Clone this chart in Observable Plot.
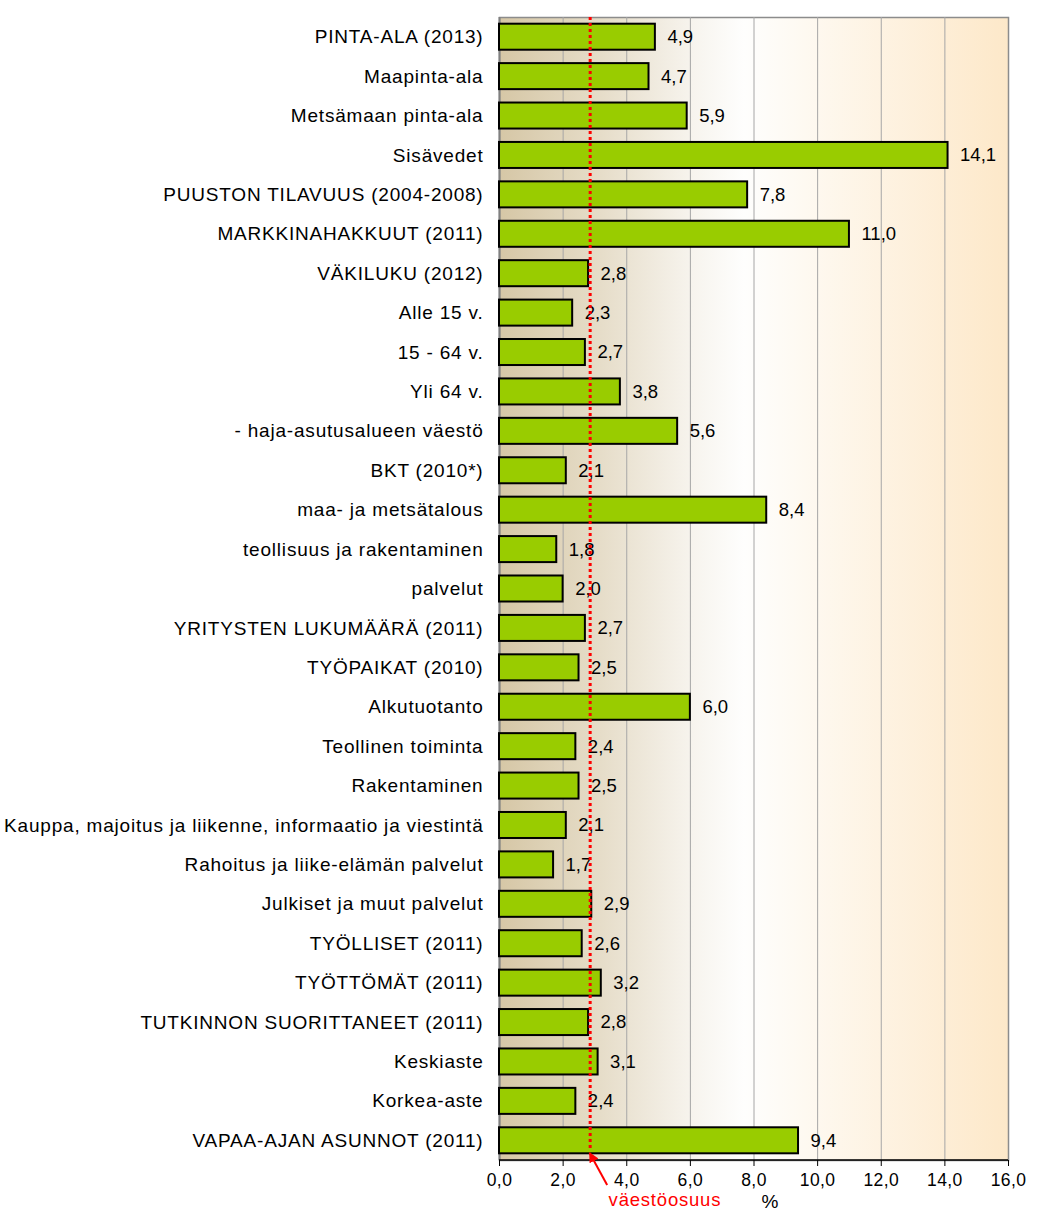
<!DOCTYPE html>
<html>
<head>
<meta charset="utf-8">
<script src="https://cdn.jsdelivr.net/npm/d3@7"></script>
<script src="https://cdn.jsdelivr.net/npm/@observablehq/plot@0.6"></script>
<style>
  html, body { margin: 0; padding: 0; background: #ffffff; }
  #chart { width: 1039px; height: 1222px; }
</style>
</head>
<body>
<div id="chart"></div>
<script>
const categories = [
  "PINTA-ALA (2013)",
  "Maapinta-ala",
  "Metsämaan pinta-ala",
  "Sisävedet",
  "PUUSTON TILAVUUS (2004-2008)",
  "MARKKINAHAKKUUT (2011)",
  "VÄKILUKU (2012)",
  "Alle 15 v.",
  "15 - 64 v.",
  "Yli 64 v.",
  "- haja-asutusalueen väestö",
  "BKT (2010*)",
  "maa- ja metsätalous",
  "teollisuus ja rakentaminen",
  "palvelut",
  "YRITYSTEN LUKUMÄÄRÄ (2011)",
  "TYÖPAIKAT (2010)",
  "Alkutuotanto",
  "Teollinen toiminta",
  "Rakentaminen",
  "Kauppa, majoitus ja liikenne, informaatio ja viestintä",
  "Rahoitus ja liike-elämän palvelut",
  "Julkiset ja muut palvelut",
  "TYÖLLISET (2011)",
  "TYÖTTÖMÄT (2011)",
  "TUTKINNON SUORITTANEET (2011)",
  "Keskiaste",
  "Korkea-aste",
  "VAPAA-AJAN ASUNNOT (2011)"
];
const values = [4.9, 4.7, 5.9, 14.1, 7.8, 11.0, 2.8, 2.3, 2.7, 3.8, 5.6, 2.1, 8.4, 1.8, 2.0,
  2.7, 2.5, 6.0, 2.4, 2.5, 2.1, 1.7, 2.9, 2.6, 3.2, 2.8, 3.1, 2.4, 9.4];
const xTicks = [0, 2, 4, 6, 8, 10, 12, 14, 16];
const populationShare = [2.85];
const annotationLabel = "väestöosuus";
const unitLabel = "%";

const data = categories.map((c, i) => ({category: c, value: values[i]}));
const fmt = d => d.toFixed(1).replace(".", ",");

const chart = Plot.plot({
  width: 1039,
  height: 1222,
  marginLeft: 499,
  marginRight: 31,
  marginTop: 17,
  marginBottom: 62,
  style: {fontFamily: "'Liberation Sans', Arial, sans-serif", fontSize: "18px", background: "#ffffff", color: "#000"},
  x: {domain: [0, 16], ticks: xTicks, tickFormat: fmt, label: null},
  y: {domain: categories, paddingInner: 0.34, paddingOuter: 0.17, round: false, label: null},
  marks: [
    Plot.frame({fill: "url(#bgGrad)", stroke: "#8c8c8c", strokeWidth: 1.5}),
    Plot.gridX(xTicks.filter(d => d > 0 && d < 16), {stroke: "#a6a6a6", strokeOpacity: 1, strokeWidth: 1}),
    Plot.ruleX([0], {stroke: "#808080", strokeWidth: 2}),
    Plot.barX(data, {y: "category", x: "value", fill: "#99cc00", stroke: "#000", strokeWidth: 2}),
    Plot.text(data, {y: "category", x: "value", text: d => fmt(d.value), textAnchor: "start", dx: 12, fontSize: 18.5, fill: "#000", style: "letter-spacing:0.6px"}),
    Plot.ruleX(populationShare, {stroke: "#ff0000", strokeWidth: 3, strokeDasharray: "3,3", insetBottom: 10}),
    Plot.axisX({ticks: xTicks, tickFormat: fmt, tickSize: 6, tickPadding: 7, fontSize: 17.5, label: null, stroke: "#000"}),
    Plot.axisY({tickSize: 0, tickPadding: 16, fontSize: 19, label: null}),
    Plot.text([annotationLabel], {x: [5.2], frameAnchor: "bottom", dy: 45, text: d => d, fill: "#ff0000", fontSize: 18.5}),
    Plot.text([unitLabel], {x: [8.5], frameAnchor: "bottom", dy: 47, text: d => d, fill: "#000", fontSize: 19})
  ]
});

const svg = d3.select(chart);
// slightly wider letter spacing like the reference rendering
svg.selectAll("g[aria-label='y-axis tick label'] text").style("letter-spacing", "0.8px");
svg.selectAll("g[aria-label='x-axis tick label'] text").style("letter-spacing", "0.4px");
svg.selectAll("g[aria-label='text'] text").filter(function() { return this.textContent === annotationLabel; }).style("letter-spacing", "0.8px");

// gradient definition for plot background
const defs = svg.insert("defs", ":first-child");
const grad = defs.append("linearGradient").attr("id", "bgGrad").attr("x1", "0%").attr("x2", "100%").attr("y1", "0%").attr("y2", "0%");
[["0%", "#d6c7a6"], ["20%", "#e6ddc9"], ["38%", "#f7f4ee"], ["48%", "#fefefd"], ["60%", "#fef9f1"], ["100%", "#fde8c9"]]
  .forEach(([o, c]) => grad.append("stop").attr("offset", o).attr("stop-color", c));

// bottom axis line and arrow annotation computed from scales
const xs = chart.scale("x");
const x0 = xs.apply(0), x16 = xs.apply(16);
const yBottom = 1222 - 62;
svg.append("line").attr("x1", x0).attr("x2", x16).attr("y1", yBottom).attr("y2", yBottom)
  .attr("stroke", "#000").attr("stroke-width", 1.5);
const m = defs.append("marker").attr("id", "arrowHead").attr("viewBox", "0 0 10 10")
  .attr("refX", 9).attr("refY", 5).attr("markerWidth", 5).attr("markerHeight", 5).attr("orient", "auto");
m.append("path").attr("d", "M0,0L10,5L0,10z").attr("fill", "#ff0000");
const xHead = xs.apply(populationShare[0]);
const xTail = xs.apply(3.4);
svg.append("line").attr("x1", xTail).attr("y1", yBottom + 25).attr("x2", xHead).attr("y2", yBottom - 7)
  .attr("stroke", "#ff0000").attr("stroke-width", 2).attr("marker-end", "url(#arrowHead)");

document.getElementById("chart").appendChild(chart);
</script>
</body>
</html>
